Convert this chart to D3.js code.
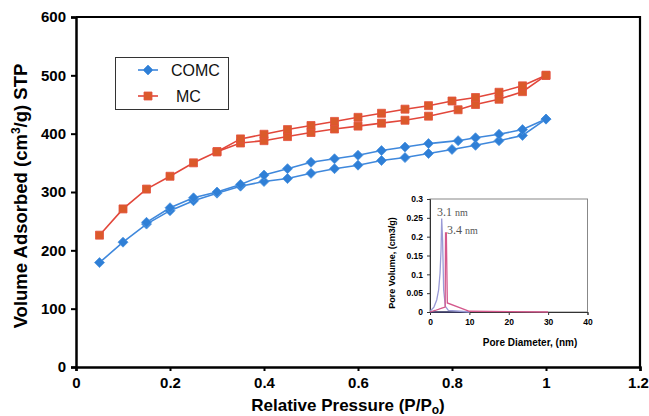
<!DOCTYPE html>
<html>
<head>
<meta charset="utf-8">
<script src="https://cdn.jsdelivr.net/npm/d3@7"></script>
<style>
  html, body { margin: 0; padding: 0; background: #fff; }
  svg { display: block; }
</style>
</head>
<body>
<svg id="chart" width="649" height="416"></svg>
<script>
// N2 sorption isotherms (adsorption + desorption branches)
const mcAdsP   = [0.05,0.1,0.15,0.2,0.25,0.3,0.35,0.4,0.45,0.5,0.55,0.6,0.65,0.7,0.75,0.813,0.85,0.9,0.95,1.0];
const mcAdsV   = [226,271,305,327,350,369,384,388,395,402,408,413,418,423,430,441,450,459,472,500];
const mcDesP   = [1.0,0.95,0.9,0.85,0.8,0.75,0.7,0.65,0.6,0.55,0.5,0.45,0.4,0.35,0.3];
const mcDesV   = [500,482,471,462,456,448,442,435,428,421,414,407,399,391,369];
const comcAdsP = [0.05,0.1,0.15,0.2,0.25,0.3,0.35,0.4,0.45,0.5,0.55,0.6,0.65,0.7,0.75,0.8,0.85,0.9,0.95,1.0];
const comcAdsV = [179,214,245,268,285,298,310,318,323,332,340,346,354,359,366,373,380,388,397,425];
const comcDesP = [1.0,0.95,0.9,0.85,0.813,0.75,0.7,0.65,0.6,0.55,0.5,0.45,0.4,0.35,0.3,0.25,0.2,0.15];
const comcDesV = [425,407,399,393,388,383,377,371,363,357,351,340,329,313,300,290,273,248];

const xTicks = [0, 0.2, 0.4, 0.6, 0.8, 1, 1.2];
const yTicks = [0, 100, 200, 300, 400, 500, 600];
const seriesNames = ["COMC", "MC"];

// Pore size distribution (inset)
const psdComcD = [0, 0.2, 1.0, 1.7, 2.2, 2.55, 2.8, 2.97, 3.2, 3.47, 3.9, 4.65, 7.6, 10.1];
const psdComcV = [0.002, 0.004, 0.013, 0.032, 0.059, 0.103, 0.164, 0.248, 0.19, 0.059, 0.015, 0.004, 0.002, 0];
const psdMcD   = [0, 1.3, 3.0, 3.85, 3.95, 4.15, 4.4, 10.0, 30];
const psdMcV   = [0, 0.004, 0.01, 0.013, 0.21, 0.21, 0.024, 0.002, 0];
const psdBaseD = [0, 10];
const psdBaseV = [0, 0];
const insetXTicks = [0, 10, 20, 30, 40];
const insetYTicks = [0, 0.05, 0.1, 0.15, 0.2, 0.25, 0.3];
const peakLabels = ["3.1", "3.4"];

const zip = (a, b) => a.map((v, i) => [v, b[i]]);

const svg = d3.select("#chart");
const L = 76, R = 640, T = 17, B = 367;

const x = d3.scaleLinear().domain([0, 1.2]).range([L, R]);
const y = d3.scaleLinear().domain([0, 600]).range([B, T]);

const boldFont = "'Liberation Sans', Arial, sans-serif";

// frame (top / right)
svg.append("path")
  .attr("d", `M${L},${T}H${R}V${B}`)
  .attr("fill", "none").attr("stroke", "#000").attr("stroke-width", 2.2);

// axes
const xAxis = svg.append("g").attr("transform", `translate(0,${B})`)
  .call(d3.axisBottom(x).tickValues(xTicks).tickFormat(d3.format("")).tickSizeOuter(0).tickSize(4).tickPadding(6));
const yAxis = svg.append("g").attr("transform", `translate(${L},0)`)
  .call(d3.axisLeft(y).tickValues(yTicks).tickSizeOuter(0).tickSize(5).tickPadding(5));
[xAxis, yAxis].forEach(g => {
  g.select(".domain").attr("stroke", "#000").attr("stroke-width", 2.5);
  g.selectAll(".tick line").attr("stroke", "#000").attr("stroke-width", 2);
  g.selectAll(".tick text").attr("fill", "#000")
    .style("font-family", boldFont).style("font-weight", "bold").style("font-size", "15px");
});
// keep the last tick label inside the page edge
xAxis.selectAll(".tick text").filter(d => d === 1.2).attr("dx", -2);

// axis titles
const xt = svg.append("text")
  .attr("x", 348).attr("y", 411).attr("text-anchor", "middle")
  .style("font-family", boldFont).style("font-weight", "bold").style("font-size", "17px");
xt.append("tspan").text("Relative Pressure (P/P");
xt.append("tspan").attr("dy", 3).style("font-size", "12px").text("o");
xt.append("tspan").attr("dy", -3).text(")");

const yt = svg.append("text")
  .attr("transform", "translate(27,196) rotate(-90)").attr("text-anchor", "middle")
  .style("font-family", boldFont).style("font-weight", "bold").style("font-size", "18.5px");
yt.append("tspan").text("Volume Adsorbed (cm");
yt.append("tspan").attr("dy", -7).style("font-size", "12px").text("3");
yt.append("tspan").attr("dy", 7).text("/g) STP");

// series
const line = d3.line().x(d => x(d[0])).y(d => y(d[1]));
const diamond = "M0,-5L5,0L0,5L-5,0Z";
const square = "M-4,-4H4V4H-4Z";

const series = [
  { name: seriesNames[1], branches: [zip(mcAdsP, mcAdsV), zip(mcDesP, mcDesV)],
    line: "#e2473b", fill: "#db5a2b", stroke: "#e5523f", sym: square },
  { name: seriesNames[0], branches: [zip(comcAdsP, comcAdsV), zip(comcDesP, comcDesV)],
    line: "#3f88dc", fill: "#2f7fd6", stroke: "#4b93e0", sym: diamond }
];

series.forEach(s => {
  const g = svg.append("g");
  s.branches.forEach(br => {
    g.append("path").attr("d", line(br))
      .attr("fill", "none").attr("stroke", s.line).attr("stroke-width", 1.6);
  });
  s.branches.forEach(br => {
    g.selectAll(null).data(br).enter().append("path")
      .attr("d", s.sym)
      .attr("transform", d => `translate(${x(d[0])},${y(d[1])})`)
      .attr("fill", s.fill).attr("stroke", s.stroke).attr("stroke-width", 0.8);
  });
});

// legend
const lg = svg.append("g");
lg.append("rect").attr("x", 115.5).attr("y", 57.5).attr("width", 113).attr("height", 52)
  .attr("fill", "#fff").attr("stroke", "#333").attr("stroke-width", 1);
[series[1], series[0]].forEach((s, i) => {
  const cy = 70 + i * 26;
  lg.append("line").attr("x1", 138).attr("x2", 158).attr("y1", cy).attr("y2", cy)
    .attr("stroke", s.line).attr("stroke-width", 1.6);
  lg.append("path").attr("d", s.sym).attr("transform", `translate(148,${cy})`)
    .attr("fill", s.fill).attr("stroke", s.stroke).attr("stroke-width", 0.8);
  lg.append("text").attr("x", i === 0 ? 171 : 176).attr("y", cy + 6)
    .style("font-family", boldFont).style("font-size", "16px").attr("fill", "#111")
    .text(s.name);
});

// inset: pore size distribution
const iL = 430, iR = 587.5, iT = 199, iB = 312;
const ix = d3.scaleLinear().domain([0, 40]).range([iL, iR]);
const iy = d3.scaleLinear().domain([0, 0.3]).range([iB, iT]);
const ig = svg.append("g");

ig.append("rect").attr("x", iL).attr("y", iT).attr("width", iR - iL).attr("height", iB - iT)
  .attr("fill", "#fff").attr("stroke", "#888").attr("stroke-width", 1);

const ixAxis = ig.append("g").attr("transform", `translate(0,${iB})`)
  .call(d3.axisBottom(ix).tickValues(insetXTicks).tickSizeOuter(0).tickSize(3).tickPadding(4));
const iyAxis = ig.append("g").attr("transform", `translate(${iL},0)`)
  .call(d3.axisLeft(iy).tickValues(insetYTicks).tickFormat(d3.format("")).tickSizeOuter(0).tickSize(3).tickPadding(4));
[ixAxis, iyAxis].forEach(g => {
  g.select(".domain").attr("stroke", "#333").attr("stroke-width", 1);
  g.selectAll(".tick line").attr("stroke", "#333");
  g.selectAll(".tick text").attr("fill", "#000")
    .style("font-family", boldFont).style("font-weight", "bold").style("font-size", "8.5px");
});

const iline = d3.line().x(d => ix(d[0])).y(d => iy(d[1]));
ig.append("path").attr("d", iline(zip(psdBaseD, psdBaseV)))
  .attr("fill", "none").attr("stroke", "#3a3a6a").attr("stroke-width", 1.4);
ig.append("path").attr("d", iline(zip(psdComcD, psdComcV)))
  .attr("fill", "none").attr("stroke", "#9a9ad6").attr("stroke-width", 1.3);
ig.append("path").attr("d", iline(zip(psdMcD, psdMcV)))
  .attr("fill", "none").attr("stroke", "#d4588c").attr("stroke-width", 1.3);

const serif = "'Liberation Serif', 'Times New Roman', serif";
const lab1 = ig.append("text").attr("x", 437).attr("y", 216)
  .style("font-family", serif).style("font-size", "12px").attr("fill", "#555");
lab1.append("tspan").text(peakLabels[0] + " ");
lab1.append("tspan").style("font-size", "10px").text("nm");
const lab2 = ig.append("text").attr("x", 447).attr("y", 234)
  .style("font-family", serif).style("font-size", "12px").attr("fill", "#555");
lab2.append("tspan").text(peakLabels[1] + " ");
lab2.append("tspan").style("font-size", "10px").text("nm");

ig.append("text").attr("x", 530).attr("y", 346).attr("text-anchor", "middle")
  .style("font-family", boldFont).style("font-weight", "bold").style("font-size", "10px")
  .text("Pore Diameter, (nm)");
ig.append("text").attr("transform", `translate(395,263) rotate(-90)`).attr("text-anchor", "middle")
  .style("font-family", boldFont).style("font-weight", "bold").style("font-size", "9px")
  .text("Pore Volume, (cm3/g)");
</script>
</body>
</html>
